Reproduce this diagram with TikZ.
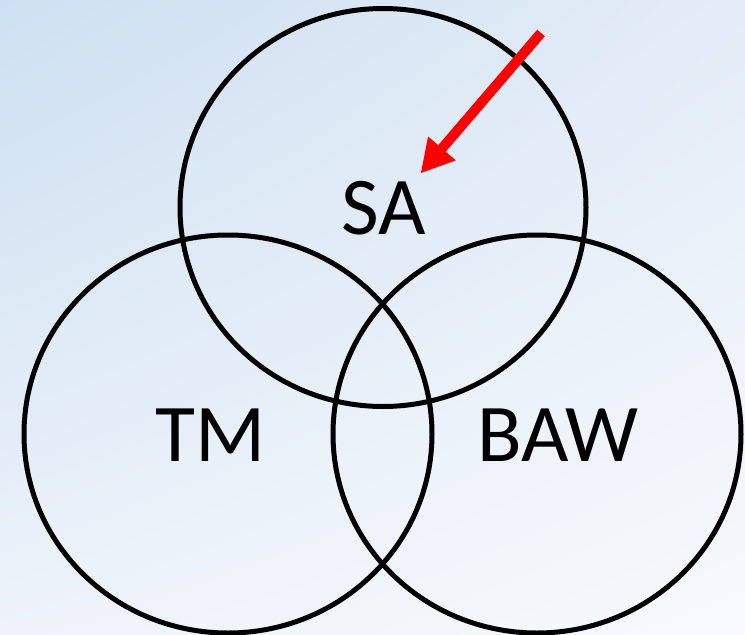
\documentclass[tikz,border=0pt]{standalone}
\usepackage{fontspec}
\setmainfont{Carlito}
\usetikzlibrary{arrows.meta,shadings}
\definecolor{bgTL}{RGB}{205,224,241}
\definecolor{bgTR}{RGB}{228,236,247}
\definecolor{bgBL}{RGB}{238,243,250}
\definecolor{bgBR}{RGB}{247,250,253}
\definecolor{arrowred}{RGB}{255,0,0}
\tikzset{
  venn/.style={draw=black, line width=5pt},
  lbl/.style={font=\fontsize{82}{90}\selectfont, text=black, inner sep=0pt, anchor=center},
}
\begin{document}
\begin{tikzpicture}[x=1pt,y=-1pt]
\useasboundingbox (0,0) rectangle (745,635);
\shade[upper left=bgTL, upper right=bgTR, lower left=bgBL, lower right=bgBR] (0,635) rectangle (745,0);
\draw[venn] (383,207.5) ellipse [x radius=203, y radius=199];
\draw[venn] (228,434) ellipse [x radius=204, y radius=199];
\draw[venn] (537,434) ellipse [x radius=204, y radius=199];
\node[lbl] (sa) at (383.5,208.5) {SA};
\node[lbl] (tm) at (211,435) {TM};
\node[lbl] (baw) at (558,435) {BAW};
\coordinate (astart) at (541,33);
\coordinate (atip) at (420.5,173.5);
\draw[arrowred, line width=10pt, -{Triangle[length=33pt, width=34pt]}] (astart) -- (atip);
\end{tikzpicture}
\end{document}
